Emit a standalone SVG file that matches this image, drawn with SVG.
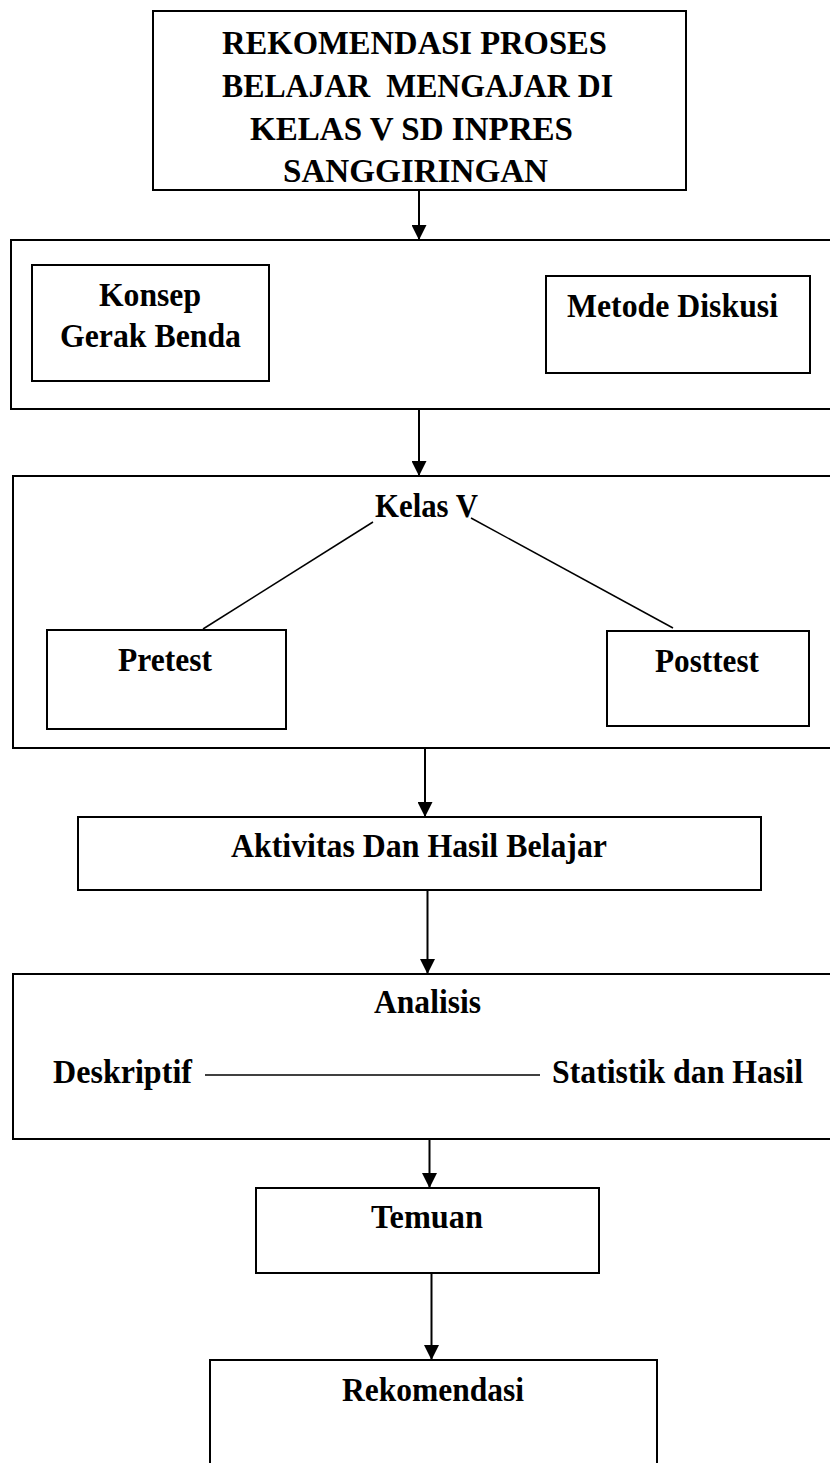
<svg xmlns="http://www.w3.org/2000/svg" width="830" height="1463" viewBox="0 0 830 1463">
<style>
.box{fill:#fff;stroke:#000;stroke-width:2}
.t{font-family:"Liberation Serif","Times New Roman",serif;font-weight:bold;font-size:33px;fill:#000;white-space:pre}
.conn{stroke:#000;stroke-width:2;fill:none}
.thin{stroke:#000;stroke-width:1.5;fill:none}
</style>
<defs>
<marker id="ah" markerUnits="userSpaceOnUse" markerWidth="15" markerHeight="15" viewBox="0 0 15 15" refX="15" refY="7.5" orient="auto">
<path d="M0,0 L15,7.5 L0,15 z" fill="#000"/>
</marker>
</defs>
<rect width="830" height="1463" fill="#fff"/>
<g id="n-title">
<rect class="box" x="153" y="11" width="533" height="179"/>
<text class="t" x="222" y="54" textLength="385" lengthAdjust="spacingAndGlyphs">REKOMENDASI PROSES</text>
<text class="t" x="222" y="97" textLength="391" lengthAdjust="spacingAndGlyphs" xml:space="preserve">BELAJAR  MENGAJAR DI</text>
<text class="t" x="250" y="140" textLength="323" lengthAdjust="spacingAndGlyphs">KELAS V SD INPRES</text>
<text class="t" x="283" y="182" textLength="265" lengthAdjust="spacingAndGlyphs">SANGGIRINGAN</text>
</g>
<g id="n-section2">
<rect class="box" x="11" y="240" width="830" height="169"/>
</g>
<g id="n-konsep">
<rect class="box" x="32" y="265" width="237" height="116"/>
<text class="t" x="99" y="306" textLength="102" lengthAdjust="spacingAndGlyphs">Konsep</text>
<text class="t" x="60" y="347" textLength="181" lengthAdjust="spacingAndGlyphs">Gerak Benda</text>
</g>
<g id="n-metode">
<rect class="box" x="546" y="276" width="264" height="97"/>
<text class="t" x="567" y="317" textLength="211" lengthAdjust="spacingAndGlyphs">Metode Diskusi</text>
</g>
<g id="n-section3">
<rect class="box" x="13" y="476" width="830" height="272"/>
</g>
<g id="n-kelas">
<text class="t" x="375" y="517" textLength="103" lengthAdjust="spacingAndGlyphs">Kelas V</text>
</g>
<g id="n-pretest">
<rect class="box" x="47" y="630" width="239" height="99"/>
<text class="t" x="118" y="671" textLength="94" lengthAdjust="spacingAndGlyphs">Pretest</text>
</g>
<g id="n-posttest">
<rect class="box" x="607" y="631" width="202" height="95"/>
<text class="t" x="655" y="672" textLength="104" lengthAdjust="spacingAndGlyphs">Posttest</text>
</g>
<g id="n-aktivitas">
<rect class="box" x="78" y="817" width="683" height="73"/>
<text class="t" x="231" y="857" textLength="376" lengthAdjust="spacingAndGlyphs">Aktivitas Dan Hasil Belajar</text>
</g>
<g id="n-analisis">
<rect class="box" x="13" y="974" width="830" height="165"/>
<text class="t" x="374" y="1013" textLength="107" lengthAdjust="spacingAndGlyphs">Analisis</text>
</g>
<g id="n-deskriptif">
<text class="t" x="53" y="1083" textLength="139" lengthAdjust="spacingAndGlyphs">Deskriptif</text>
</g>
<g id="n-statistik">
<text class="t" x="552" y="1083" textLength="251" lengthAdjust="spacingAndGlyphs">Statistik dan Hasil</text>
</g>
<g id="n-temuan">
<rect class="box" x="256" y="1188" width="343" height="85"/>
<text class="t" x="371" y="1228" textLength="112" lengthAdjust="spacingAndGlyphs">Temuan</text>
</g>
<g id="n-rekomendasi">
<rect class="box" x="210" y="1360" width="447" height="130"/>
<text class="t" x="342" y="1401" textLength="182" lengthAdjust="spacingAndGlyphs">Rekomendasi</text>
</g>
<g id="connectors">
<line class="conn" x1="419" y1="190" x2="419" y2="240" marker-end="url(#ah)"/>
<line class="conn" x1="419" y1="409" x2="419" y2="476" marker-end="url(#ah)"/>
<line class="thin" x1="373" y1="522" x2="203" y2="629"/>
<line class="thin" x1="471" y1="518" x2="673" y2="628"/>
<line class="conn" x1="425" y1="748" x2="425" y2="817" marker-end="url(#ah)"/>
<line class="conn" x1="427.5" y1="890" x2="427.5" y2="974" marker-end="url(#ah)"/>
<line class="thin" x1="205" y1="1075" x2="540" y2="1075"/>
<line class="conn" x1="429.5" y1="1139" x2="429.5" y2="1188" marker-end="url(#ah)"/>
<line class="conn" x1="431.5" y1="1273" x2="431.5" y2="1360" marker-end="url(#ah)"/>
</g>
</svg>
